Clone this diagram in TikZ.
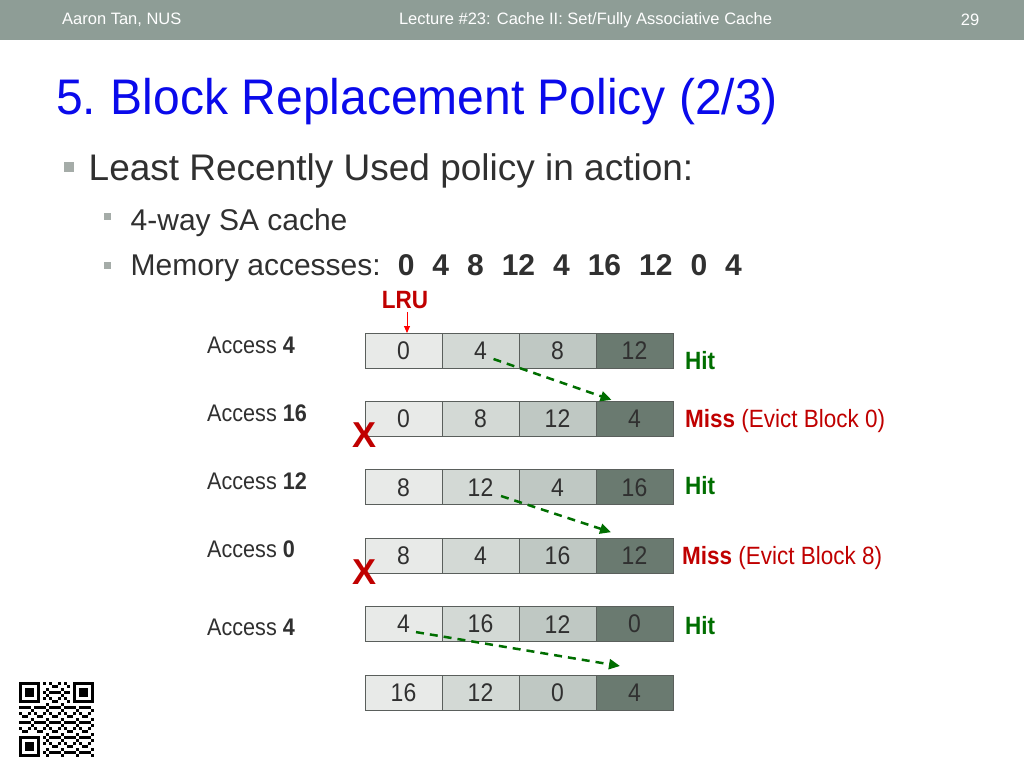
\documentclass[tikz,border=0pt]{standalone}
\usepackage{fontspec}
\setmainfont{Liberation Sans}
\newfontfamily\narrow[FakeStretch=0.9]{Liberation Sans}
\newfontfamily\titlefont[FakeStretch=0.96]{Liberation Sans}
\usepackage{tikz}
\usetikzlibrary{arrows.meta}

\definecolor{barcol}{RGB}{142,157,150}
\definecolor{titleblue}{RGB}{10,10,235}
\definecolor{txt}{RGB}{48,48,48}
\definecolor{bulletcol}{RGB}{165,172,168}
\definecolor{cellone}{RGB}{232,234,232}
\definecolor{celltwo}{RGB}{211,217,213}
\definecolor{cellthree}{RGB}{191,200,195}
\definecolor{cellfour}{RGB}{106,122,112}
\definecolor{cellline}{RGB}{90,95,92}
\definecolor{hitgreen}{RGB}{0,110,0}
\definecolor{missred}{RGB}{192,0,0}

\newcommand\gapnum{\hspace{18pt}}

\tikzset{
  cell/.style={draw=cellline, line width=1pt, minimum width=77pt, minimum height=35pt,
    inner sep=0pt, outer sep=0pt, text=txt, font=\narrow\fontsize{25.5}{25.5}\selectfont},
  acc/.style={anchor=west, inner sep=0pt, text=txt, font=\narrow\fontsize{24}{24}\selectfont},
  hit/.style={anchor=west, inner sep=0pt, text=hitgreen, font=\narrow\bfseries\fontsize{25}{25}\selectfont},
  miss/.style={anchor=west, inner sep=0pt, text=missred, font=\narrow\fontsize{25}{25}\selectfont},
  xmark/.style={inner sep=0pt, text=missred, font=\bfseries\fontsize{36}{36}\selectfont},
  moveto/.style={hitgreen, line width=2.5pt, dash pattern=on 8pt off 6pt,
    -{Triangle[length=11pt,width=10pt]}},
}

\begin{document}
\begin{tikzpicture}[x=1pt,y=-1pt]
  \useasboundingbox (0,0) rectangle (1024,768);
  \fill[white] (0,0) rectangle (1024,768);
  % header bar
  \fill[barcol] (0,0) rectangle (1024,40);
  \node[anchor=west, inner sep=0pt, white, font=\fontsize{16.5}{16.5}\selectfont] (author) at (62,20) {Aaron Tan, NUS};
  \node[inner sep=0pt, white, font=\fontsize{16.5}{16.5}\selectfont] (lecture) at (585.5,20) {Lecture \#23: Cache II: Set/Fully Associative Cache};
  \node[inner sep=0pt, white, font=\fontsize{16.5}{16.5}\selectfont] (page) at (970,20) {29};

  % title and bullets
  \node[anchor=base west, inner sep=0pt, text=titleblue, font=\titlefont\fontsize{50}{50}\selectfont] (title) at (56,114) {5.\hspace{-3pt} Block Replacement Policy (2/3)};
  \fill[bulletcol] (64,162) rectangle (73.5,171.5);
  \node[anchor=base west, inner sep=0pt, text=txt, font=\fontsize{37}{37}\selectfont] (lru) at (88.5,180) {Least Recently Used policy in action:};
  \fill[bulletcol] (103.5,212.5) rectangle (111,220);
  \node[anchor=base west, inner sep=0pt, text=txt, font=\fontsize{30}{30}\selectfont] (way) at (130.5,230) {4-way SA cache};
  \fill[bulletcol] (103.5,261.5) rectangle (111,269);
  \node[anchor=base west, inner sep=0pt, text=txt, font=\fontsize{30}{30}\selectfont] (mem) at (130.5,275)
    {Memory accesses:\hspace{17pt}\textbf{0\gapnum 4\gapnum 8\gapnum 12\gapnum 4\gapnum 16\gapnum 12\gapnum 0\gapnum 4}};

  % cache rows
  \foreach \a/\b/\c/\d [count=\r] in {0/4/8/12, 0/8/12/4, 8/12/4/16, 8/4/16/12, 4/16/12/0, 16/12/0/4} {
    \pgfmathsetmacro\yy{350.5+68.4*(\r-1)}
    \node[cell, fill=cellone] (c\r-1) at (403.5,\yy) {\a};
    \node[cell, fill=celltwo] (c\r-2) at (480.5,\yy) {\b};
    \node[cell, fill=cellthree] (c\r-3) at (557.5,\yy) {\c};
    \node[cell, fill=cellfour] (c\r-4) at (634.5,\yy) {\d};
  }

  % LRU pointer
  \node[inner sep=0pt, text=missred, font=\narrow\bfseries\fontsize{25}{25}\selectfont] (lrutag) at (405,300) {LRU};
  \draw[red, line width=0.9pt, -{Triangle[length=7pt,width=6pt]}] ([xshift=2pt,yshift=-3pt]lrutag.south) -- ([xshift=2pt]lrutag.south |- c1-1.north);

  % access labels
  \node[acc] (acc1) at (207,345) {Access \textbf{4}};
  \node[acc] (acc2) at (207,413) {Access \textbf{16}};
  \node[acc] (acc3) at (207,481) {Access \textbf{12}};
  \node[acc] (acc4) at (207,549) {Access \textbf{0}};
  \node[acc] (acc5) at (207,627) {Access \textbf{4}};

  % outcomes
  \node[hit] (res1) at (685,361) {Hit};
  \node[miss] (res2) at (685,421) {\textbf{Miss} (Evict Block 0)};
  \node[hit] (res3) at (685,486) {Hit};
  \node[miss] (res4) at (682,558) {\textbf{Miss} (Evict Block 8)};
  \node[hit] (res5) at (685,626) {Hit};

  % evictions
  \node[xmark] (evict2) at (364,435.5) {X};
  \node[xmark] (evict4) at (364,572) {X};

  % moved blocks
  \draw[moveto] ([shift={(13,8.5)}]c1-2.center) -- ([shift={(-23,-1.5)}]c2-4.north);
  \draw[moveto] ([shift={(20.5,8.7)}]c3-2.center) -- ([shift={(-23.5,-6)}]c4-4.north);
  \draw[moveto] ([shift={(12.5,8)}]c5-1.center) -- ([shift={(-14.5,-9)}]c6-4.north);

  % qr code
  \foreach \i in {0,...,24} {
    \foreach \j in {0,...,24} {
      \pgfmathtruncatemacro\inf{((\i<8) && (\j<8)) || ((\i>16) && (\j<8)) || ((\i<8) && (\j>16))}
      \pgfmathtruncatemacro\on{mod(3*\i*\i+7*\j+5*\i*\j+\i,5)<2}
      \ifnum\inf=0 \ifnum\on=1
        \fill[black] (19+3*\i,682+3*\j) rectangle ++(3,3);
      \fi\fi
    }
  }
  \foreach \qx/\qy in {19/682, 73/682, 19/736} {
    \fill[black] (\qx,\qy) rectangle ++(21,21);
    \fill[white] (\qx+3,\qy+3) rectangle ++(15,15);
    \fill[black] (\qx+6,\qy+6) rectangle ++(9,9);
  }
\end{tikzpicture}
\end{document}
